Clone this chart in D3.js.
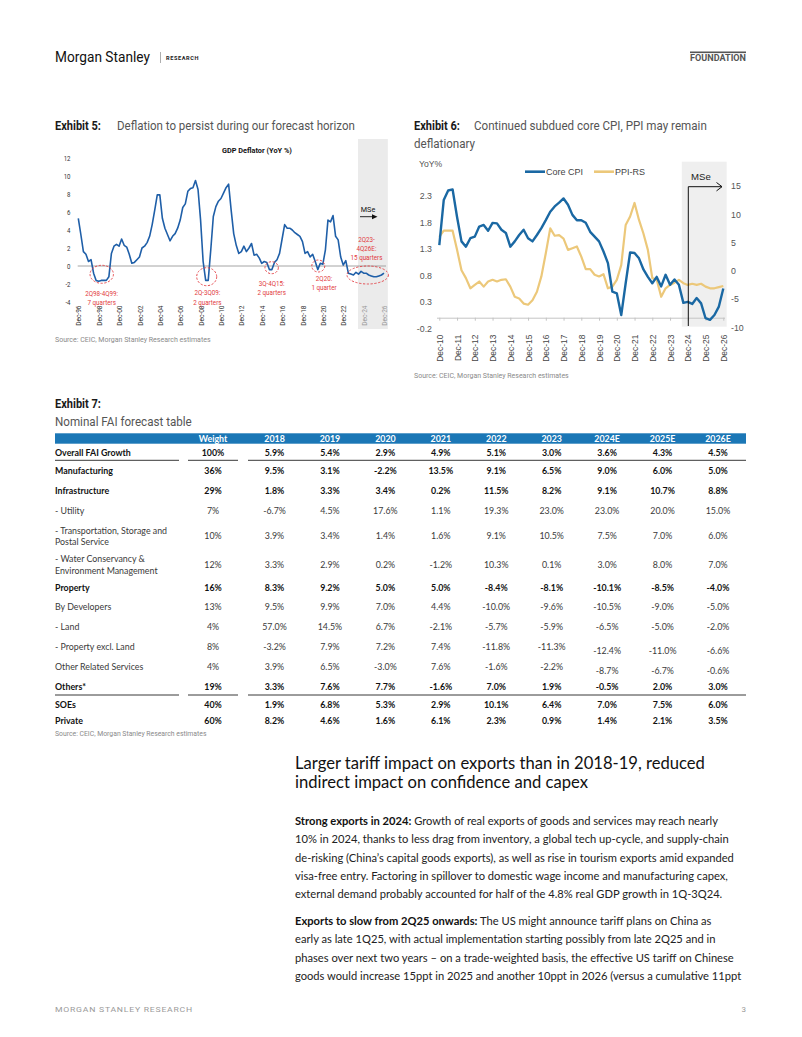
<!DOCTYPE html>
<html><head><meta charset="utf-8">
<script src="https://cdn.jsdelivr.net/npm/d3@7"></script>
<style>body{margin:0;background:#fff}svg{display:block}</style>
</head><body><svg id="c" width="802" height="1037"></svg>
<script>
// ---------------- DATA ----------------
// Exhibit 5: GDP deflator YoY %, quarterly Q4-1996 .. Q4-2026
const gdpDeflator = [5.3,3.5,1.6,1.3,0.5,0.7,-0.8,-1.6,-1.7,-1.6,
 -1.6,-1.6,-1.2,1.4,2.2,2.4,2.2,3.0,2.3,2.1,
 1.3,0.3,0.4,0.7,1.0,2.0,2.2,2.6,3.3,4.6,
 6.2,7.9,7.9,5.3,4.2,3.5,2.8,3.3,3.6,4.2,
 5.1,6.5,6.9,8.3,8.6,8.7,9.5,8.5,5.1,0.5,
 -1.6,-1.6,1.8,5.5,6.6,7.2,7.5,8.1,8.7,9.1,
 6.2,3.6,2.3,1.4,1.6,2.2,1.6,2.0,2.5,1.2,
 1.3,0.9,0.3,0.5,0.4,-0.4,-0.4,0.4,0.7,1.4,
 3.0,4.6,4.2,4.2,4.0,3.7,3.5,3.3,2.7,1.4,
 1.6,1.0,1.3,0.5,-0.4,0.3,0.2,1.8,5.1,4.9,
 5.6,3.3,2.9,1.0,0.1,0.6,-0.8,-0.9,-1.0,-0.7,
 -0.9,-0.6,-0.8,-0.8,-1.0,-1.1,-1.2,-1.2,-1.1,-1.0,-0.8];
const ex5XLabels = ['Dec-96','Dec-98','Dec-00','Dec-02','Dec-04','Dec-06','Dec-08','Dec-10','Dec-12','Dec-14','Dec-16','Dec-18','Dec-20','Dec-22','Dec-24','Dec-26'];
const ex5YTicks = [-4,-2,0,2,4,6,8,10,12];
const ex5ForecastStart = 110; // quarter index where shading starts
const ex5Notes = [
  {k:9.2, v:-0.92, rx:11.7, ry:9, lines:['2Q98-4Q99:','7 quarters'], lx:101.7, ly:293.3},
  {k:50.4, v:-1.19, rx:10, ry:9, lines:['2Q-3Q09:','2 quarters'], lx:207.3, ly:292.7},
  {k:75.9, v:-0.19, rx:6.7, ry:6, lines:['3Q-4Q15:','2 quarters'], lx:271.7, ly:283.3},
  {k:94.2, v:0, rx:6.5, ry:6, lines:['2Q20:','1 quarter'], lx:324, ly:278.3},
  {k:113.6, v:-1.0, rx:20.7, ry:9, lines:['2Q23-','4Q26E:','15 quarters'], lx:366.5, ly:239.3}
];

// Exhibit 6: quarterly Q4-2010 .. Q4-2026
const coreCPI = [1.37,2.22,2.40,2.42,1.90,1.44,1.34,1.50,1.53,1.72,1.75,1.64,1.79,1.78,1.66,1.60,1.34,1.44,1.56,1.66,1.50,
 1.44,1.56,1.69,1.84,2.00,2.10,2.17,2.25,2.13,1.94,1.84,1.84,1.79,1.62,1.53,1.44,1.25,1.03,0.49,0.46,
 0.05,0.65,1.23,1.22,1.12,0.91,0.77,0.65,0.77,0.59,0.81,0.62,0.72,0.62,0.28,0.30,0.26,0.37,0.27,-0.01,-0.04,0.05,0.21,0.55];
const ppiRS = [6.0,7.1,7.1,7.1,3.7,0.1,-1.3,-3.1,-2.5,-1.9,-2.8,-1.9,-1.6,-1.9,-1.6,-1.5,-2.8,-4.6,-4.9,-5.8,-6.0,
 -5.2,-3.7,-1.0,3.1,7.5,6.2,6.3,5.7,3.7,4.0,4.3,2.5,0.3,0.3,-0.7,-1.0,-0.6,-3.1,-2.8,-1.6,
 1.0,8.1,9.6,12.0,9.0,6.6,3.7,-1.3,-1.6,-4.6,-3.1,-2.5,-2.1,-1.6,-2.2,-2.5,-2.3,-2.5,-2.3,-2.8,-3.1,-3.1,-2.9,-2.7];
const ex6XLabels = ['Dec-10','Dec-11','Dec-12','Dec-13','Dec-14','Dec-15','Dec-16','Dec-17','Dec-18','Dec-19','Dec-20','Dec-21','Dec-22','Dec-23','Dec-24','Dec-25','Dec-26'];
const ex6LeftTicks = [-0.2,0.3,0.8,1.3,1.8,2.3];
const ex6RightTicks = [-10,-5,0,5,10,15];
const ex6Series = ['Core CPI','PPI-RS'];
const ex6ForecastStart = 56; // Dec-24

// Exhibit 7: table
const tblHeaders = ['Weight','2018','2019','2020','2021','2022','2023','2024E','2025E','2026E'];
const tblRows = ['Overall FAI Growth','Manufacturing','Infrastructure','- Utility','- Transportation, Storage and|Postal Service','- Water Conservancy &|Environment Management','Property','By Developers','- Land','- Property excl. Land','Other Related Services','Others*','SOEs','Private'];
const tblBold = [1,1,1,0,0,0,1,0,0,0,0,1,1,1];
const tblWeight = [100,36,29,7,10,12,16,13,4,8,4,19,40,60];
const y2018 = [5.9,9.5,1.8,-6.7,3.9,3.3,8.3,9.5,57.0,-3.2,3.9,3.3,1.9,8.2];
const y2019 = [5.4,3.1,3.3,4.5,3.4,2.9,9.2,9.9,14.5,7.9,6.5,7.6,6.8,4.6];
const y2020 = [2.9,-2.2,3.4,17.6,1.4,0.2,5.0,7.0,6.7,7.2,-3.0,7.7,5.3,1.6];
const y2021 = [4.9,13.5,0.2,1.1,1.6,-1.2,5.0,4.4,-2.1,7.4,7.6,-1.6,2.9,6.1];
const y2022 = [5.1,9.1,11.5,19.3,9.1,10.3,-8.4,-10.0,-5.7,-11.8,-1.6,7.0,10.1,2.3];
const y2023 = [3.0,6.5,8.2,23.0,10.5,0.1,-8.1,-9.6,-5.9,-11.3,-2.2,1.9,6.4,0.9];
const y2024E = [3.6,9.0,9.1,23.0,7.5,3.0,-10.1,-10.5,-6.5,-12.4,-8.7,-0.5,7.0,1.4];
const y2025E = [4.3,6.0,10.7,20.0,7.0,8.0,-8.5,-9.0,-5.0,-11.0,-6.7,2.0,7.5,2.1];
const y2026E = [4.5,5.0,8.8,15.0,6.0,7.0,-4.0,-5.0,-2.0,-6.6,-0.6,3.0,6.0,3.5];

// Text
const headTitle = ['Larger tariff impact on exports than in 2018-19, reduced','indirect impact on confidence and capex'];
const para1 = [['Strong exports in 2024:',' Growth of real exports of goods and services may reach nearly'],
 ['','10% in 2024, thanks to less drag from inventory, a global tech up-cycle, and supply-chain'],
 ['','de-risking (China\u2019s capital goods exports), as well as rise in tourism exports amid expanded'],
 ['','visa-free entry. Factoring in spillover to domestic wage income and manufacturing capex,'],
 ['','external demand probably accounted for half of the 4.8% real GDP growth in 1Q-3Q24.']];
const para2 = [['Exports to slow from 2Q25 onwards:',' The US might announce tariff plans on China as'],
 ['','early as late 1Q25, with actual implementation starting possibly from late 2Q25 and in'],
 ['','phases over next two years \u2013 on a trade-weighted basis, the effective US tariff on Chinese'],
 ['','goods would increase 15ppt in 2025 and another 10ppt in 2026 (versus a cumulative 11ppt']];

// ---------------- DRAW ----------------
const loc = d3.formatLocale({decimal:'.', thousands:',', grouping:[3], currency:['',''], minus:'-'});
const svg = d3.select('#c');
function T(p, x, y, s, o={}) {
  const t = p.append('text').attr('dominant-baseline','central')
    .style('font-family', o.f||'Roboto').style('font-size',(o.s||10)+'px')
    .style('font-weight',o.w||400).attr('fill',o.c||'#222')
    .attr('text-anchor',o.a||'start').text(s);
  if (o.ls!=null) t.style('letter-spacing',o.ls+'px');
  let k = 1;
  if (o.fit) k = o.fit / t.node().getComputedTextLength();
  if (o.sx) k = o.sx;
  t.attr('transform', `translate(${x},${y}) scale(${k},1)`);
  t.k = k;
  return t;
}

// Header
T(svg, 55, 57, 'Morgan Stanley', {s:15, c:'#111', fit:95});
svg.append('line').attr('x1',160.5).attr('x2',160.5).attr('y1',52).attr('y2',63).attr('stroke','#999').attr('stroke-width',0.8);
T(svg, 166, 57.5, 'RESEARCH', {s:5.6, w:700, c:'#222', ls:0.6});
svg.append('rect').attr('x',690).attr('y',51.5).attr('width',56).attr('height',1.6).attr('fill','#555');
T(svg, 746, 58.5, 'FOUNDATION', {s:9, w:700, c:'#555', a:'end', fit:56});

// Exhibit titles
T(svg, 55, 126, 'Exhibit 5:', {s:12, w:700, c:'#1a1a1a', fit:46});
T(svg, 117, 126, 'Deflation to persist during our forecast horizon', {s:12, c:'#555', fit:238});
T(svg, 414, 126, 'Exhibit 6:', {s:12, w:700, c:'#1a1a1a', fit:46});
const t6 = T(svg, 474, 126, 'Continued subdued core CPI, PPI may remain', {s:12, c:'#555', fit:233});
T(svg, 414, 144, 'deflationary', {s:12, c:'#555', sx:t6.k});

// ---- Exhibit 5 chart ----
const g5 = svg.append('g');
const x5 = d3.scaleLinear().domain([0,120]).range([78.3,384]);
const y5 = d3.scaleLinear().domain([-4,12]).range([302,158]);
g5.append('rect').attr('x',x5(ex5ForecastStart-0.2)).attr('y',139).attr('width',x5(121.5)-x5(ex5ForecastStart-0.2)).attr('height',190).attr('fill','#ebebeb');
T(g5, 222, 150.7, 'GDP Deflator (YoY %)', {s:7.8, w:700, c:'#111', fit:70});
g5.append('line').attr('x1',77.7).attr('x2',386).attr('y1',y5(0)).attr('y2',y5(0)).attr('stroke','#9a9a9a').attr('stroke-width',0.9);
// y axis
const ay5 = g5.append('g').attr('transform','translate(70.5,0)')
  .call(d3.axisLeft(y5).tickValues(ex5YTicks).tickSize(0).tickPadding(0).tickFormat(loc.format('d')));
ay5.select('.domain').remove();
ay5.selectAll('text').style('font-family','Roboto').style('font-size','7.6px').attr('fill','#333')
  .attr('x',null).attr('dy','0.35em').attr('transform','scale(0.8,1)');
// x axis
const ax5 = g5.append('g').attr('transform','translate(0,305.5)')
  .call(d3.axisBottom(x5).tickValues(d3.range(0,121,8)).tickFormat((d,i)=>ex5XLabels[i]).tickSize(0));
ax5.select('.domain').remove();
ax5.selectAll('text').style('font-family','Roboto').style('font-size','7.5px')
  .attr('fill',(d)=> d>=ex5ForecastStart ? '#9a9a9a' : '#333')
  .attr('text-anchor','end').attr('y',0).attr('x',0).attr('dy','0.35em')
  .attr('transform','rotate(-90) scale(0.87,1)');
// line
g5.append('path').datum(gdpDeflator)
  .attr('d', d3.line().x((d,i)=>x5(i)).y(d=>y5(d)))
  .attr('fill','none').attr('stroke','#1f5fa8').attr('stroke-width',1.6).attr('stroke-linejoin','round');
// MSe arrow
T(g5, 368, 209, 'MSe', {s:7.5, c:'#111', a:'middle', fit:14.5});
g5.append('line').attr('x1',360).attr('x2',373).attr('y1',216.7).attr('y2',216.7).attr('stroke','#111').attr('stroke-width',0.9);
g5.append('path').attr('d','M372,214.2 L377.5,216.7 L372,219.2 Z').attr('fill','#111');
// annotations
const red = '#e23a40';
ex5Notes.forEach(n=>{
  g5.append('ellipse').attr('cx',x5(n.k)).attr('cy',y5(n.v)).attr('rx',n.rx).attr('ry',n.ry)
    .attr('fill','none').attr('stroke',red).attr('stroke-width',0.9).attr('stroke-dasharray','2.2,1.6');
  n.lines.forEach((l,i)=> T(g5, n.lx, n.ly + i*9.2, l, {s:8, c:red, a:'middle', sx:0.78}));
});
T(svg, 55, 340, 'Source: CEIC, Morgan Stanley Research estimates', {s:7, c:'#8a8a8a', fit:156});

// ---- Exhibit 6 chart ----
const g6 = svg.append('g');
const x6 = d3.scaleLinear().domain([0,64]).range([439.3,723.3]);
const yL = d3.scaleLinear().domain([-0.2,2.3]).range([328.3,195.8]);
const yR = d3.scaleLinear().domain([-10,15]).range([327.3,186]);
g6.append('rect').attr('x',x6(ex6ForecastStart)-6).attr('y',161.7).attr('width',726.7-(x6(ex6ForecastStart)-6)).attr('height',165).attr('fill','#efefef');
T(g6, 419, 164.3, 'YoY%', {f:'Liberation Sans', s:8.6, c:'#555'});
// legend
const legColors = ['#1a68a3','#ecc87a'];
[[525,546],[594,615]].forEach((p,i)=>{
  g6.append('line').attr('x1',p[0]).attr('x2',p[1]-1).attr('y1',171.7).attr('y2',171.7).attr('stroke',legColors[i]).attr('stroke-width',2.6);
  T(g6, p[1], 171.7, ex6Series[i], {f:'Liberation Sans', s:9, c:'#444'});
});
// axes
const aL = g6.append('g').attr('transform','translate(432,0)')
  .call(d3.axisLeft(yL).tickValues(ex6LeftTicks).tickSize(0).tickPadding(0).tickFormat(loc.format('.1f')));
aL.select('.domain').remove();
aL.selectAll('text').style('font-family','Liberation Sans').style('font-size','8.8px').attr('fill','#555');
const aR = g6.append('g').attr('transform','translate(731,0)')
  .call(d3.axisRight(yR).tickValues(ex6RightTicks).tickSize(0).tickPadding(0).tickFormat(loc.format('d')));
aR.select('.domain').remove();
aR.selectAll('text').style('font-family','Liberation Sans').style('font-size','8.8px').attr('fill','#555');
const ax6 = g6.append('g').attr('transform',`translate(0,${yL(0)})`)
  .call(d3.axisBottom(x6).tickValues(d3.range(0,65,4)).tickFormat((d,i)=>ex6XLabels[i]).tickSize(3).tickSizeOuter(0));
ax6.select('.domain').attr('stroke','#c4c4c4').attr('d',`M437,0.5H725`);
ax6.selectAll('.tick line').attr('stroke','#c4c4c4');
ax6.selectAll('text').style('font-family','Liberation Sans').style('font-size','8.4px').attr('fill','#444')
  .attr('text-anchor','end').attr('y',0).attr('x',-17).attr('dy','0.35em').attr('transform','rotate(-90)');
// lines
g6.append('path').datum(ppiRS).attr('d', d3.line().x((d,i)=>x6(i)).y(d=>yR(d)))
  .attr('fill','none').attr('stroke',legColors[1]).attr('stroke-width',2.2).attr('stroke-linejoin','round');
g6.append('path').datum(coreCPI).attr('d', d3.line().x((d,i)=>x6(i)).y(d=>yL(d)))
  .attr('fill','none').attr('stroke',legColors[0]).attr('stroke-width',2.4).attr('stroke-linejoin','round');
// MSe
const fx = x6(ex6ForecastStart)+0.5;
g6.append('line').attr('x1',fx).attr('x2',fx).attr('y1',186.7).attr('y2',326).attr('stroke','#111').attr('stroke-width',1);
g6.append('line').attr('x1',fx).attr('x2',722).attr('y1',186.7).attr('y2',186.7).attr('stroke','#111').attr('stroke-width',1);
g6.append('path').attr('d','M716.5,182.5 L722,186.7 L716.5,190.9').attr('fill','none').attr('stroke','#111').attr('stroke-width',1);
T(g6, 691, 176, 'MSe', {f:'Liberation Sans', s:9.6, c:'#222'});
T(svg, 414, 376, 'Source: CEIC, Morgan Stanley Research estimates', {s:7, c:'#8a8a8a', fit:155});

// ---- Exhibit 7 ----
T(svg, 55, 404, 'Exhibit 7:', {s:12, w:700, c:'#1a1a1a', fit:46});
T(svg, 55, 422, 'Nominal FAI forecast table', {s:12, c:'#555', fit:137});

const gt = svg.append('g');
const colX = d3.scalePoint().domain(tblHeaders.slice(1)).range([274.5,718]);
const wX = 213;
const rowY = [452.3,470.7,490.3,510,535.7,564.3,587.3,606.7,626.7,646,666,686,704,720.7];
const yearCols = [y2018,y2019,y2020,y2021,y2022,y2023,y2024E,y2025E,y2026E];
const probe = gt.append('text').style('font-family','Lato').style('font-size','9px').style('font-weight',700).text('Overall FAI Growth');
const tfs = 9*76/probe.node().getComputedTextLength(); probe.remove();
gt.append('rect').attr('x',55).attr('y',433.3).attr('width',691).attr('height',10.4).attr('fill','#1b77b6');
tblHeaders.forEach((h,i)=>{
  T(gt, i===0? wX : colX(h), 438.5, h, {f:'Lato', s:tfs, w:700, c:'#fff', a:'middle'});
});
const f1 = loc.format('.1f');
const fmt = d=> f1(d)+'%';
tblRows.forEach((r,ri)=>{
  const b = tblBold[ri]; const c = b? '#111' : '#3a3a3a'; const w = b?700:400;
  const parts = r.split('|');
  if (parts.length===1) T(gt, 55, rowY[ri], parts[0], {f:'Lato', s:tfs, w, c});
  else parts.forEach((p,pi)=> T(gt, 55, rowY[ri]-5.7+pi*11.7, p, {f:'Lato', s:tfs, w, c}));
  T(gt, wX, rowY[ri], tblWeight[ri]+'%', {f:'Lato', s:tfs, w, c, a:'middle'});
  yearCols.forEach((col,ci)=>{
    const off = ((ri===9||ri===10) && ci>=6) ? 4 : 0;
    T(gt, colX(tblHeaders[ci+1]), rowY[ri]+off, fmt(col[ri]), {f:'Lato', s:tfs, w, c, a:'middle'});
  });
});
[460.3, 695].forEach(yy=>{
  [[55,179],[188,238],[248,746]].forEach(s=> gt.append('line').attr('x1',s[0]).attr('x2',s[1]).attr('y1',yy).attr('y2',yy).attr('stroke','#222').attr('stroke-width',0.9));
});
T(svg, 55, 734, 'Source: CEIC, Morgan Stanley Research estimates', {s:7, c:'#8a8a8a', fit:152});

// ---- Body text ----
const bodyFont = 'Lato';
const ph = svg.append('text').style('font-family',bodyFont).style('font-size','17px').text(headTitle[0]);
const hfs = 17*410/ph.node().getComputedTextLength(); ph.remove();
headTitle.forEach((l,i)=> T(svg, 295, 763.3 + i*18.4, l, {f:bodyFont, s:hfs, c:'#111'}));
const pp = svg.append('text').style('font-family',bodyFont).style('font-size','12px').text(para1[2][1]);
const bfs = 12*439/pp.node().getComputedTextLength(); pp.remove();
function para(lines, y0){
  lines.forEach((l,i)=>{
    const t = svg.append('text').attr('x',295).attr('y',y0+i*18.35).attr('dominant-baseline','central')
      .style('font-family',bodyFont).style('font-size',bfs+'px').attr('fill','#222');
    if (l[0]) t.append('tspan').style('font-weight',700).attr('fill','#111').text(l[0]);
    t.append('tspan').text(l[1]);
  });
}
para(para1, 820);
para(para2, 920);

// Footer
T(svg, 55, 1009, 'MORGAN STANLEY RESEARCH', {s:8, c:'#9a9a9a', ls:0.7, fit:138});
T(svg, 746, 1009, '3', {s:8, c:'#9a9a9a', a:'end'});
</script></body></html>
